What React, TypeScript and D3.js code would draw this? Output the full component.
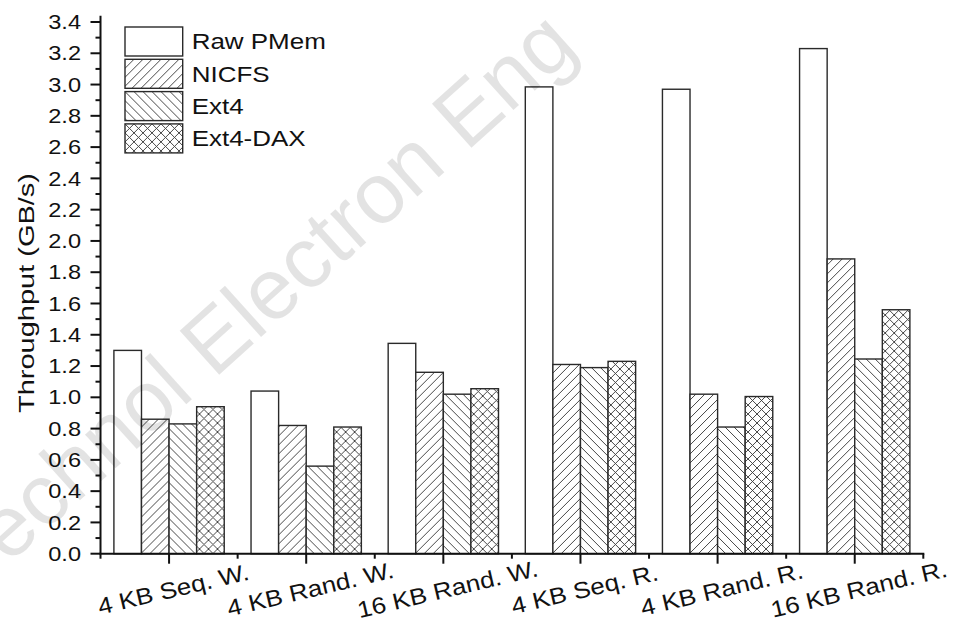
import React from 'react';
import * as d3 from 'd3';

const categories = ['4 KB Seq. W.', '4 KB Rand. W.', '16 KB Rand. W.', '4 KB Seq. R.', '4 KB Rand. R.', '16 KB Rand. R.'];
const seriesNames = ['Raw PMem', 'NICFS', 'Ext4', 'Ext4-DAX'];
const rawPMem = [1.30, 1.04, 1.345, 2.985, 2.97, 3.23];
const nicfs = [0.86, 0.82, 1.16, 1.21, 1.02, 1.885];
const ext4 = [0.83, 0.56, 1.02, 1.19, 0.81, 1.245];
const ext4Dax = [0.94, 0.81, 1.055, 1.23, 1.005, 1.56];
const yTickValues = [0.0, 0.2, 0.4, 0.6, 0.8, 1.0, 1.2, 1.4, 1.6, 1.8, 2.0, 2.2, 2.4, 2.6, 2.8, 3.0, 3.2, 3.4];
const yMinorValues = [0.1, 0.3, 0.5, 0.7, 0.9, 1.1, 1.3, 1.5, 1.7, 1.9, 2.1, 2.3, 2.5, 2.7, 2.9, 3.1, 3.3];
const yAxisTitle = 'Throughput (GB/s)';
const watermark = 'Front Inform Technol Electron Eng';

const seriesValues = [rawPMem, nicfs, ext4, ext4Dax];
const seriesFill = ['#ffffff', 'url(#pat-fwd)', 'url(#pat-back)', 'url(#pat-cross)'];

export default function App() {
  const W = 961, H = 628;
  const x0 = 100.5, x1 = 923.3;
  const y = d3.scaleLinear().domain([0, 3.4]).range([553.7, 22]);
  const xBand = d3.scaleBand<string>().domain(categories).range([x0, x1]).paddingInner(0).paddingOuter(0);
  const bw = xBand.bandwidth();
  const xInner = d3.scaleBand<string>().domain(seriesNames).range([0, bw]).paddingInner(0).paddingOuter(0.486);
  const stroke = '#2a2a2a';
  const fmt = d3.format('.1f');
  const ink = '#111';
  const font = 'Arial, "Liberation Sans", sans-serif';

  const legendX = 125, legendY = 27, legendH = 29, legendW = 57.7, legendStep = 32.3;

  return (
    <svg width={W} height={H} style={{ position: 'absolute', left: 0, top: 0, background: '#fff' }} fontFamily={font}>
      <defs>
        <pattern id="pat-fwd" patternUnits="userSpaceOnUse" width={9} height={9}>
          <rect width={9} height={9} fill="#fff" />
          <path d="M0,9 L9,0 M-1,1 L1,-1 M8,10 L10,8" stroke="#333" strokeWidth={0.9} />
        </pattern>
        <pattern id="pat-back" patternUnits="userSpaceOnUse" width={9} height={9}>
          <rect width={9} height={9} fill="#fff" />
          <path d="M0,0 L9,9 M-1,8 L1,10 M8,-1 L10,1" stroke="#333" strokeWidth={0.9} />
        </pattern>
        <pattern id="pat-cross" patternUnits="userSpaceOnUse" width={9} height={9}>
          <rect width={9} height={9} fill="#fff" />
          <path d="M0,9 L9,0 M-1,1 L1,-1 M8,10 L10,8 M0,0 L9,9 M-1,8 L1,10 M8,-1 L10,1" stroke="#333" strokeWidth={0.9} />
        </pattern>
      </defs>

      {/* bars */}
      {categories.map((c, ci) => (
        <g key={c} transform={`translate(${xBand(c)},0)`}>
          {seriesNames.map((s, si) => {
            const v = seriesValues[si][ci];
            return (
              <rect key={s} x={xInner(s)} y={y(v)} width={xInner.bandwidth()} height={y(0) - y(v)}
                fill={seriesFill[si]} stroke={stroke} strokeWidth={1.4} />
            );
          })}
        </g>
      ))}

      {/* y axis */}
      <line x1={x0} x2={x0} y1={y(0)} y2={y(3.44)} stroke={ink} strokeWidth={2} />
      {yTickValues.map(t => (
        <g key={t}>
          <line x1={x0 - 10} x2={x0} y1={y(t)} y2={y(t)} stroke={ink} strokeWidth={2} />
          <text transform={`translate(81,${y(t)}) scale(1.15,1)`} textAnchor="end" dy="0.35em" fontSize={20.5} fill={ink}>{fmt(t)}</text>
        </g>
      ))}
      {yMinorValues.map(t => (
        <line key={t} x1={x0 - 5} x2={x0} y1={y(t)} y2={y(t)} stroke={ink} strokeWidth={2} />
      ))}
      <text transform="translate(34,293) rotate(-90)" textAnchor="middle" fontSize={21.5} fill={ink}
        textLength={240} lengthAdjust="spacingAndGlyphs">{yAxisTitle}</text>

      {/* x axis */}
      <line x1={x0 - 1} x2={x1 + 1} y1={y(0)} y2={y(0)} stroke={ink} strokeWidth={2} />
      {categories.map(c => {
        const cx = (xBand(c) as number) + bw / 2;
        return (
          <g key={c}>
            <line x1={cx} x2={cx} y1={y(0)} y2={y(0) + 10} stroke={ink} strokeWidth={2} />
            <text transform={`translate(${cx + 6},597) rotate(-13.3) scale(1.13,1)`} textAnchor="middle" fontSize={23} fill={ink}>{c}</text>
          </g>
        );
      })}
      {[...categories.map(c => xBand(c) as number), x1].map((bx, i) => (
        <line key={i} x1={bx} x2={bx} y1={y(0)} y2={y(0) + 5} stroke={ink} strokeWidth={2} />
      ))}

      {/* legend */}
      {seriesNames.map((s, si) => (
        <g key={s} transform={`translate(${legendX},${legendY + si * legendStep})`}>
          <rect x={0} y={0} width={legendW} height={legendH} fill={seriesFill[si]} stroke={stroke} strokeWidth={1.4} />
          <text transform={`translate(${191.7 - legendX},${legendH / 2 + 7.8}) scale(1.18,1)`} fontSize={22} fill={ink}>{s}</text>
        </g>
      ))}

      {/* watermark */}
      <text transform="translate(580,50) rotate(-42)" textAnchor="end" fontSize={86} fill="#000" fillOpacity={0.11}>{watermark}</text>
    </svg>
  );
}
